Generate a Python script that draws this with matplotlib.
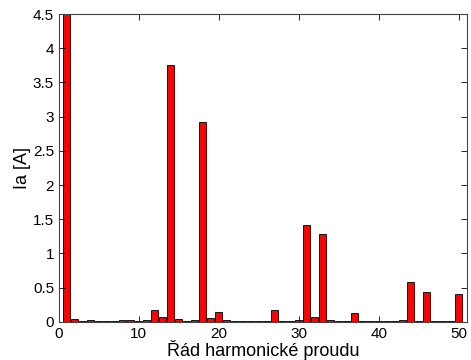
import matplotlib
matplotlib.use("Agg")
import matplotlib.pyplot as plt

harmonics = list(range(1, 51))
current = [4.9, 0.04, 0.015, 0.03, 0.005, 0.005, 0.01, 0.02, 0.02, 0.015,
           0.02, 0.17, 0.07, 3.75, 0.04, 0.005, 0.02, 2.92, 0.05, 0.15,
           0.03, 0.015, 0.015, 0.015, 0.015, 0.015, 0.17, 0.015, 0.005, 0.03,
           1.42, 0.07, 1.29, 0.03, 0.005, 0.005, 0.13, 0.005, 0.015, 0.005,
           0.015, 0.015, 0.03, 0.58, 0.005, 0.44, 0.015, 0.005, 0.015, 0.40]

plt.rcParams['font.family'] = ['Liberation Sans', 'DejaVu Sans']

fig = plt.figure(figsize=(4.71, 3.6), dpi=100)
ax = fig.add_axes([0.125, 0.106, 0.866, 0.855])

ax.bar(harmonics, current, width=0.85, color='red', edgecolor='black', linewidth=0.6)

ax.set_xlim(0, 51)
ax.set_ylim(0, 4.5)
ax.set_xticks([0, 10, 20, 30, 40, 50])
ax.set_yticks([0, 0.5, 1, 1.5, 2, 2.5, 3, 3.5, 4, 4.5])
ax.set_yticklabels(['0', '0.5', '1', '1.5', '2', '2.5', '3', '3.5', '4', '4.5'])
ax.tick_params(direction='in', top=True, right=True, labelsize=11, length=4, width=0.6)
for s in ax.spines.values():
    s.set_linewidth(0.8)
    s.set_color('#444444')

ax.set_xlabel('Řád harmonické proudu', fontsize=13)
ax.set_ylabel('Ia [A]', fontsize=13)
ax.xaxis.set_label_coords(0.5, -0.06)
ax.yaxis.set_label_coords(-0.068, 0.5)

fig.savefig('out.png', dpi=100)
